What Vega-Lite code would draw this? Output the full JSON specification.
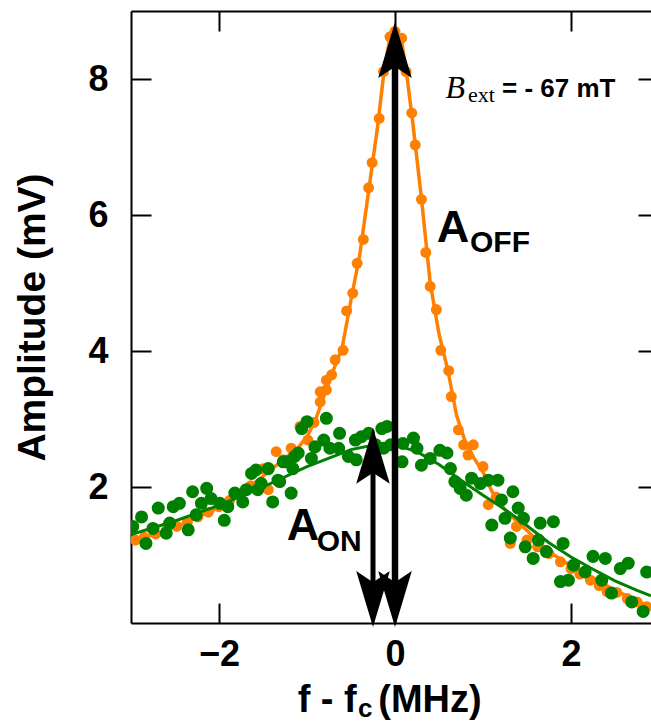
{
  "$schema": "https://vega.github.io/schema/vega-lite/v6.json",
  "width": 520,
  "height": 612,
  "autosize": {"type": "none"},
  "padding": {"left": 131, "top": 11, "right": 0, "bottom": 100},
  "background": "white",
  "config": {
    "view": {"stroke": null},
    "axis": {"grid": false, "domainColor": "black", "domainWidth": 2, "tickColor": "black", "tickWidth": 2,
      "labelFont": "Liberation Sans", "labelFontWeight": "bold", "labelFontSize": 36, "labelColor": "black",
      "titleFont": "Liberation Sans", "titleFontWeight": "bold", "titleFontSize": 39, "titleColor": "black"}
  },
  "resolve": {"axis": {"x": "independent", "y": "independent"}},
  "datasets": {
    "offFit": [
      {"f": -3.0, "a": 1.20}, {"f": -2.75, "a": 1.30}, {"f": -2.5, "a": 1.41}, {"f": -2.25, "a": 1.55},
      {"f": -2.0, "a": 1.70}, {"f": -1.75, "a": 1.90}, {"f": -1.5, "a": 2.16}, {"f": -1.25, "a": 2.42},
      {"f": -1.1, "a": 2.58}, {"f": -1.0, "a": 2.74}, {"f": -0.9, "a": 3.0}, {"f": -0.8, "a": 3.36},
      {"f": -0.7, "a": 3.72}, {"f": -0.6, "a": 4.05}, {"f": -0.5, "a": 4.75}, {"f": -0.4, "a": 5.42},
      {"f": -0.3, "a": 6.35}, {"f": -0.2, "a": 7.28}, {"f": -0.13, "a": 8.05}, {"f": -0.06, "a": 8.6},
      {"f": 0.0, "a": 8.72}, {"f": 0.07, "a": 8.6}, {"f": 0.13, "a": 8.1}, {"f": 0.2, "a": 7.38},
      {"f": 0.3, "a": 6.25}, {"f": 0.4, "a": 5.0}, {"f": 0.5, "a": 4.25}, {"f": 0.6, "a": 3.72},
      {"f": 0.7, "a": 3.05}, {"f": 0.8, "a": 2.66}, {"f": 0.9, "a": 2.42}, {"f": 1.0, "a": 2.22},
      {"f": 1.1, "a": 1.94}, {"f": 1.25, "a": 1.66}, {"f": 1.5, "a": 1.36}, {"f": 1.75, "a": 1.05},
      {"f": 2.0, "a": 0.84}, {"f": 2.25, "a": 0.66}, {"f": 2.5, "a": 0.48}, {"f": 2.75, "a": 0.33},
      {"f": 2.909, "a": 0.23}
    ],
    "off": [
      {"f": -2.95, "a": 1.22}, {"f": -2.85, "a": 1.26}, {"f": -2.72, "a": 1.31}, {"f": -2.6, "a": 1.36},
      {"f": -2.48, "a": 1.42}, {"f": -2.36, "a": 1.48}, {"f": -2.24, "a": 1.56}, {"f": -2.12, "a": 1.63},
      {"f": -2.0, "a": 1.71}, {"f": -1.88, "a": 1.80}, {"f": -1.76, "a": 1.90}, {"f": -1.64, "a": 2.02},
      {"f": -1.5, "a": 2.27}, {"f": -1.44, "a": 1.96}, {"f": -1.35, "a": 2.52}, {"f": -1.27, "a": 2.40},
      {"f": -1.18, "a": 2.57}, {"f": -1.08, "a": 2.89}, {"f": -0.99, "a": 2.69}, {"f": -0.92, "a": 2.95},
      {"f": -0.85, "a": 3.25}, {"f": -0.85, "a": 3.40}, {"f": -0.78, "a": 3.43}, {"f": -0.78, "a": 3.57},
      {"f": -0.72, "a": 3.65}, {"f": -0.68, "a": 3.87}, {"f": -0.59, "a": 4.01}, {"f": -0.55, "a": 4.59},
      {"f": -0.48, "a": 4.85}, {"f": -0.43, "a": 5.29}, {"f": -0.36, "a": 5.64}, {"f": -0.30, "a": 6.40},
      {"f": -0.26, "a": 6.77}, {"f": -0.18, "a": 7.42}, {"f": -0.13, "a": 8.11}, {"f": -0.057, "a": 8.62},
      {"f": 0.0, "a": 8.7}, {"f": 0.076, "a": 8.60}, {"f": 0.125, "a": 8.11}, {"f": 0.19, "a": 7.50},
      {"f": 0.23, "a": 7.03}, {"f": 0.30, "a": 6.23}, {"f": 0.35, "a": 5.45}, {"f": 0.40, "a": 4.95},
      {"f": 0.47, "a": 4.61}, {"f": 0.52, "a": 4.01}, {"f": 0.61, "a": 3.71}, {"f": 0.64, "a": 3.33},
      {"f": 0.72, "a": 2.84}, {"f": 0.78, "a": 2.62}, {"f": 0.83, "a": 2.47}, {"f": 0.89, "a": 2.62},
      {"f": 1.0, "a": 2.30}, {"f": 1.06, "a": 1.74}, {"f": 1.15, "a": 1.85}, {"f": 1.31, "a": 1.17},
      {"f": 1.38, "a": 1.42}, {"f": 1.5, "a": 1.22}, {"f": 1.62, "a": 1.12}, {"f": 1.75, "a": 1.02},
      {"f": 1.88, "a": 0.9}, {"f": 2.0, "a": 0.8}, {"f": 2.1, "a": 0.72}, {"f": 2.22, "a": 0.63},
      {"f": 2.32, "a": 0.55}, {"f": 2.41, "a": 0.46}, {"f": 2.52, "a": 0.45}, {"f": 2.64, "a": 0.36},
      {"f": 2.75, "a": 0.31}, {"f": 2.86, "a": 0.24}
    ],
    "on": [
      {"f": -2.98, "a": 1.42}, {"f": -2.88, "a": 1.56}, {"f": -2.83, "a": 1.17}, {"f": -2.75, "a": 1.39},
      {"f": -2.69, "a": 1.69}, {"f": -2.60, "a": 1.32}, {"f": -2.56, "a": 1.47}, {"f": -2.52, "a": 1.71},
      {"f": -2.45, "a": 1.76}, {"f": -2.35, "a": 1.37}, {"f": -2.30, "a": 1.93}, {"f": -2.26, "a": 1.59},
      {"f": -2.20, "a": 1.76}, {"f": -2.14, "a": 1.98}, {"f": -2.09, "a": 1.83}, {"f": -1.99, "a": 1.76},
      {"f": -1.94, "a": 1.51}, {"f": -1.90, "a": 1.71}, {"f": -1.82, "a": 1.91}, {"f": -1.73, "a": 1.78},
      {"f": -1.69, "a": 1.96}, {"f": -1.63, "a": 2.20}, {"f": -1.58, "a": 2.25}, {"f": -1.52, "a": 2.05},
      {"f": -1.56, "a": 1.96}, {"f": -1.44, "a": 2.27}, {"f": -1.39, "a": 1.78}, {"f": -1.33, "a": 2.10},
      {"f": -1.27, "a": 2.37}, {"f": -1.18, "a": 1.91}, {"f": -1.16, "a": 2.27}, {"f": -1.14, "a": 2.45},
      {"f": -1.06, "a": 2.86}, {"f": -1.00, "a": 2.96}, {"f": -0.78, "a": 3.01}, {"f": -1.23, "a": 2.37},
      {"f": -1.10, "a": 2.50}, {"f": -0.95, "a": 2.42}, {"f": -1.31, "a": 2.08}, {"f": -0.91, "a": 2.59},
      {"f": -0.81, "a": 2.69}, {"f": -0.74, "a": 2.57}, {"f": -0.63, "a": 2.79}, {"f": -0.64, "a": 2.57},
      {"f": -0.53, "a": 2.45}, {"f": -0.45, "a": 2.69}, {"f": -0.38, "a": 2.74}, {"f": -0.30, "a": 2.79},
      {"f": -0.15, "a": 2.86}, {"f": -0.09, "a": 2.89}, {"f": -0.13, "a": 2.57}, {"f": -0.44, "a": 2.40},
      {"f": -0.22, "a": 2.62}, {"f": -0.05, "a": 2.62}, {"f": 0.08, "a": 2.37}, {"f": 0.09, "a": 2.64},
      {"f": 0.21, "a": 2.72}, {"f": 0.25, "a": 2.57}, {"f": 0.30, "a": 2.32}, {"f": 0.40, "a": 2.42},
      {"f": 0.51, "a": 2.54}, {"f": 0.59, "a": 2.50}, {"f": 0.63, "a": 2.27}, {"f": 0.68, "a": 2.08},
      {"f": 0.74, "a": 1.98}, {"f": 0.81, "a": 1.88}, {"f": 0.87, "a": 2.13}, {"f": 0.97, "a": 2.05},
      {"f": 1.06, "a": 2.10}, {"f": 1.17, "a": 2.10}, {"f": 1.34, "a": 1.93}, {"f": 1.21, "a": 1.81},
      {"f": 1.40, "a": 1.69}, {"f": 1.25, "a": 1.54}, {"f": 1.46, "a": 1.54}, {"f": 1.10, "a": 1.44},
      {"f": 1.31, "a": 1.25}, {"f": 1.65, "a": 1.47}, {"f": 1.80, "a": 1.49}, {"f": 1.63, "a": 1.22},
      {"f": 1.48, "a": 1.12}, {"f": 1.57, "a": 0.95}, {"f": 1.72, "a": 1.05}, {"f": 1.91, "a": 1.17},
      {"f": 2.03, "a": 0.85}, {"f": 2.16, "a": 0.75}, {"f": 2.25, "a": 0.98}, {"f": 2.39, "a": 0.95},
      {"f": 1.88, "a": 0.61}, {"f": 1.97, "a": 0.63}, {"f": 2.35, "a": 0.63}, {"f": 2.46, "a": 0.44},
      {"f": 2.56, "a": 0.80}, {"f": 2.65, "a": 0.88}, {"f": 2.69, "a": 0.31}, {"f": 2.82, "a": 0.17},
      {"f": 2.86, "a": 0.75}
    ],
    "onFit": [
      {"f": -3.0, "a": 1.30}, {"f": -2.5, "a": 1.50}, {"f": -2.0, "a": 1.73}, {"f": -1.5, "a": 2.00},
      {"f": -1.0, "a": 2.30}, {"f": -0.5, "a": 2.55}, {"f": -0.2, "a": 2.63}, {"f": 0.0, "a": 2.62},
      {"f": 0.25, "a": 2.52}, {"f": 0.5, "a": 2.33}, {"f": 0.75, "a": 2.10}, {"f": 1.0, "a": 1.88},
      {"f": 1.25, "a": 1.67}, {"f": 1.5, "a": 1.43}, {"f": 1.75, "a": 1.18}, {"f": 2.0, "a": 0.97},
      {"f": 2.25, "a": 0.79}, {"f": 2.5, "a": 0.62}, {"f": 2.75, "a": 0.48}, {"f": 2.909, "a": 0.40}
    ]
  },
  "layer": [
    {
      "data": {"name": "offFit"},
      "mark": {"type": "line", "color": "#ff8000", "strokeWidth": 3.5, "clip": true},
      "encoding": {
        "x": {"field": "f", "type": "quantitative", "scale": {"domain": [-3, 2.909], "nice": false, "zero": false},
          "axis": {"orient": "bottom", "values": [-2, 0, 2], "tickSize": -20, "labelPadding": 34, "title": null, "labelFlush": false}},
        "y": {"field": "a", "type": "quantitative", "scale": {"domain": [0, 9], "nice": false, "zero": false},
          "axis": {"orient": "left", "values": [2, 4, 6, 8], "tickSize": -20, "labelPadding": 43, "title": "Amplitude (mV)", "titlePadding": 35}}
      }
    },
    {
      "data": {"name": "off"},
      "mark": {"type": "circle", "color": "#ff8000", "size": 120, "opacity": 1, "clip": true},
      "encoding": {
        "x": {"field": "f", "type": "quantitative",
          "axis": {"orient": "top", "values": [-2, 0, 2], "tickSize": -20, "labels": false, "title": null}},
        "y": {"field": "a", "type": "quantitative",
          "axis": {"orient": "right", "values": [2, 4, 6, 8], "tickSize": -13, "labels": false, "domain": false, "title": null}}
      }
    },
    {
      "data": {"name": "on"},
      "mark": {"type": "circle", "color": "#008000", "size": 170, "opacity": 1, "clip": true},
      "encoding": {
        "x": {"field": "f", "type": "quantitative", "axis": null},
        "y": {"field": "a", "type": "quantitative", "axis": null}
      }
    },
    {
      "data": {"name": "onFit"},
      "mark": {"type": "line", "color": "#008000", "strokeWidth": 3, "clip": true},
      "encoding": {
        "x": {"field": "f", "type": "quantitative", "axis": null},
        "y": {"field": "a", "type": "quantitative", "axis": null}
      }
    },
    {
      "data": {"values": [{"f": 0, "a0": 0.4, "a1": 8.3}]},
      "mark": {"type": "rule", "color": "black", "strokeWidth": 6.5},
      "encoding": {
        "x": {"field": "f", "type": "quantitative", "axis": null},
        "y": {"field": "a0", "type": "quantitative", "axis": null},
        "y2": {"field": "a1"}
      }
    },
    {
      "data": {"values": [{"f": -0.25, "a0": 0.4, "a1": 2.4}]},
      "mark": {"type": "rule", "color": "black", "strokeWidth": 5},
      "encoding": {
        "x": {"field": "f", "type": "quantitative", "axis": null},
        "y": {"field": "a0", "type": "quantitative", "axis": null},
        "y2": {"field": "a1"}
      }
    },
    {
      "data": {"values": [{"f": 0, "a": 8.84}, {"f": -0.25, "a": 2.87}]},
      "mark": {"type": "point", "shape": "M0,0 L0.6,2 L0,1.6 L-0.6,2 Z", "size": 3136, "filled": true, "color": "black", "opacity": 1, "strokeWidth": 0},
      "encoding": {
        "x": {"field": "f", "type": "quantitative", "axis": null},
        "y": {"field": "a", "type": "quantitative", "axis": null}
      }
    },
    {
      "data": {"values": [{"f": 0, "a": -0.06}, {"f": -0.25, "a": -0.06}]},
      "mark": {"type": "point", "shape": "M0,0 L0.6,-2 L0,-1.6 L-0.6,-2 Z", "size": 3136, "filled": true, "color": "black", "opacity": 1, "strokeWidth": 0},
      "encoding": {
        "x": {"field": "f", "type": "quantitative", "axis": null},
        "y": {"field": "a", "type": "quantitative", "axis": null}
      }
    },
    {
      "data": {"values": [{"f": 0.474, "a": 5.61, "t": "A"}, {"f": -1.23, "a": 1.22, "t": "A"}]},
      "mark": {"type": "text", "font": "Liberation Sans", "fontWeight": "bold", "fontSize": 45, "align": "left", "baseline": "alphabetic", "color": "black"},
      "encoding": {
        "x": {"field": "f", "type": "quantitative", "axis": null},
        "y": {"field": "a", "type": "quantitative", "axis": null},
        "text": {"field": "t"}
      }
    },
    {
      "data": {"values": [{"f": 0.852, "a": 5.45, "t": "OFF"}, {"f": -0.89, "a": 1.06, "t": "ON"}]},
      "mark": {"type": "text", "font": "Liberation Sans", "fontWeight": "bold", "fontSize": 30, "align": "left", "baseline": "alphabetic", "color": "black"},
      "encoding": {
        "x": {"field": "f", "type": "quantitative", "axis": null},
        "y": {"field": "a", "type": "quantitative", "axis": null},
        "text": {"field": "t"}
      }
    },
    {
      "data": {"values": [{"f": 0.575, "a": 7.72, "t": "B"}]},
      "mark": {"type": "text", "font": "Liberation Serif", "fontStyle": "italic", "fontSize": 32, "align": "left", "baseline": "alphabetic", "color": "black"},
      "encoding": {
        "x": {"field": "f", "type": "quantitative", "axis": null},
        "y": {"field": "a", "type": "quantitative", "axis": null},
        "text": {"field": "t"}
      }
    },
    {
      "data": {"values": [{"f": 0.83, "a": 7.66, "t": "ext"}]},
      "mark": {"type": "text", "font": "Liberation Serif", "fontSize": 22, "align": "left", "baseline": "alphabetic", "color": "black"},
      "encoding": {
        "x": {"field": "f", "type": "quantitative", "axis": null},
        "y": {"field": "a", "type": "quantitative", "axis": null},
        "text": {"field": "t"}
      }
    },
    {
      "data": {"values": [{"f": 1.216, "a": 7.74, "t": "= - 67 mT"}]},
      "mark": {"type": "text", "font": "Liberation Sans", "fontWeight": "bold", "fontSize": 26, "align": "left", "baseline": "alphabetic", "color": "black"},
      "encoding": {
        "x": {"field": "f", "type": "quantitative", "axis": null},
        "y": {"field": "a", "type": "quantitative", "axis": null},
        "text": {"field": "t"}
      }
    },
    {
      "data": {"values": [{"f": -0.435, "a": -1.31, "t": "f - f"}]},
      "mark": {"type": "text", "font": "Liberation Sans", "fontWeight": "bold", "fontSize": 38, "align": "right", "baseline": "alphabetic", "color": "black"},
      "encoding": {
        "x": {"field": "f", "type": "quantitative", "axis": null},
        "y": {"field": "a", "type": "quantitative", "axis": null},
        "text": {"field": "t"}
      }
    },
    {
      "data": {"values": [{"f": -0.42, "a": -1.38, "t": "c"}]},
      "mark": {"type": "text", "font": "Liberation Sans", "fontWeight": "bold", "fontSize": 26, "align": "left", "baseline": "alphabetic", "color": "black"},
      "encoding": {
        "x": {"field": "f", "type": "quantitative", "axis": null},
        "y": {"field": "a", "type": "quantitative", "axis": null},
        "text": {"field": "t"}
      }
    },
    {
      "data": {"values": [{"f": -0.19, "a": -1.31, "t": "(MHz)"}]},
      "mark": {"type": "text", "font": "Liberation Sans", "fontWeight": "bold", "fontSize": 38, "align": "left", "baseline": "alphabetic", "color": "black"},
      "encoding": {
        "x": {"field": "f", "type": "quantitative", "axis": null},
        "y": {"field": "a", "type": "quantitative", "axis": null},
        "text": {"field": "t"}
      }
    }
  ]
}
